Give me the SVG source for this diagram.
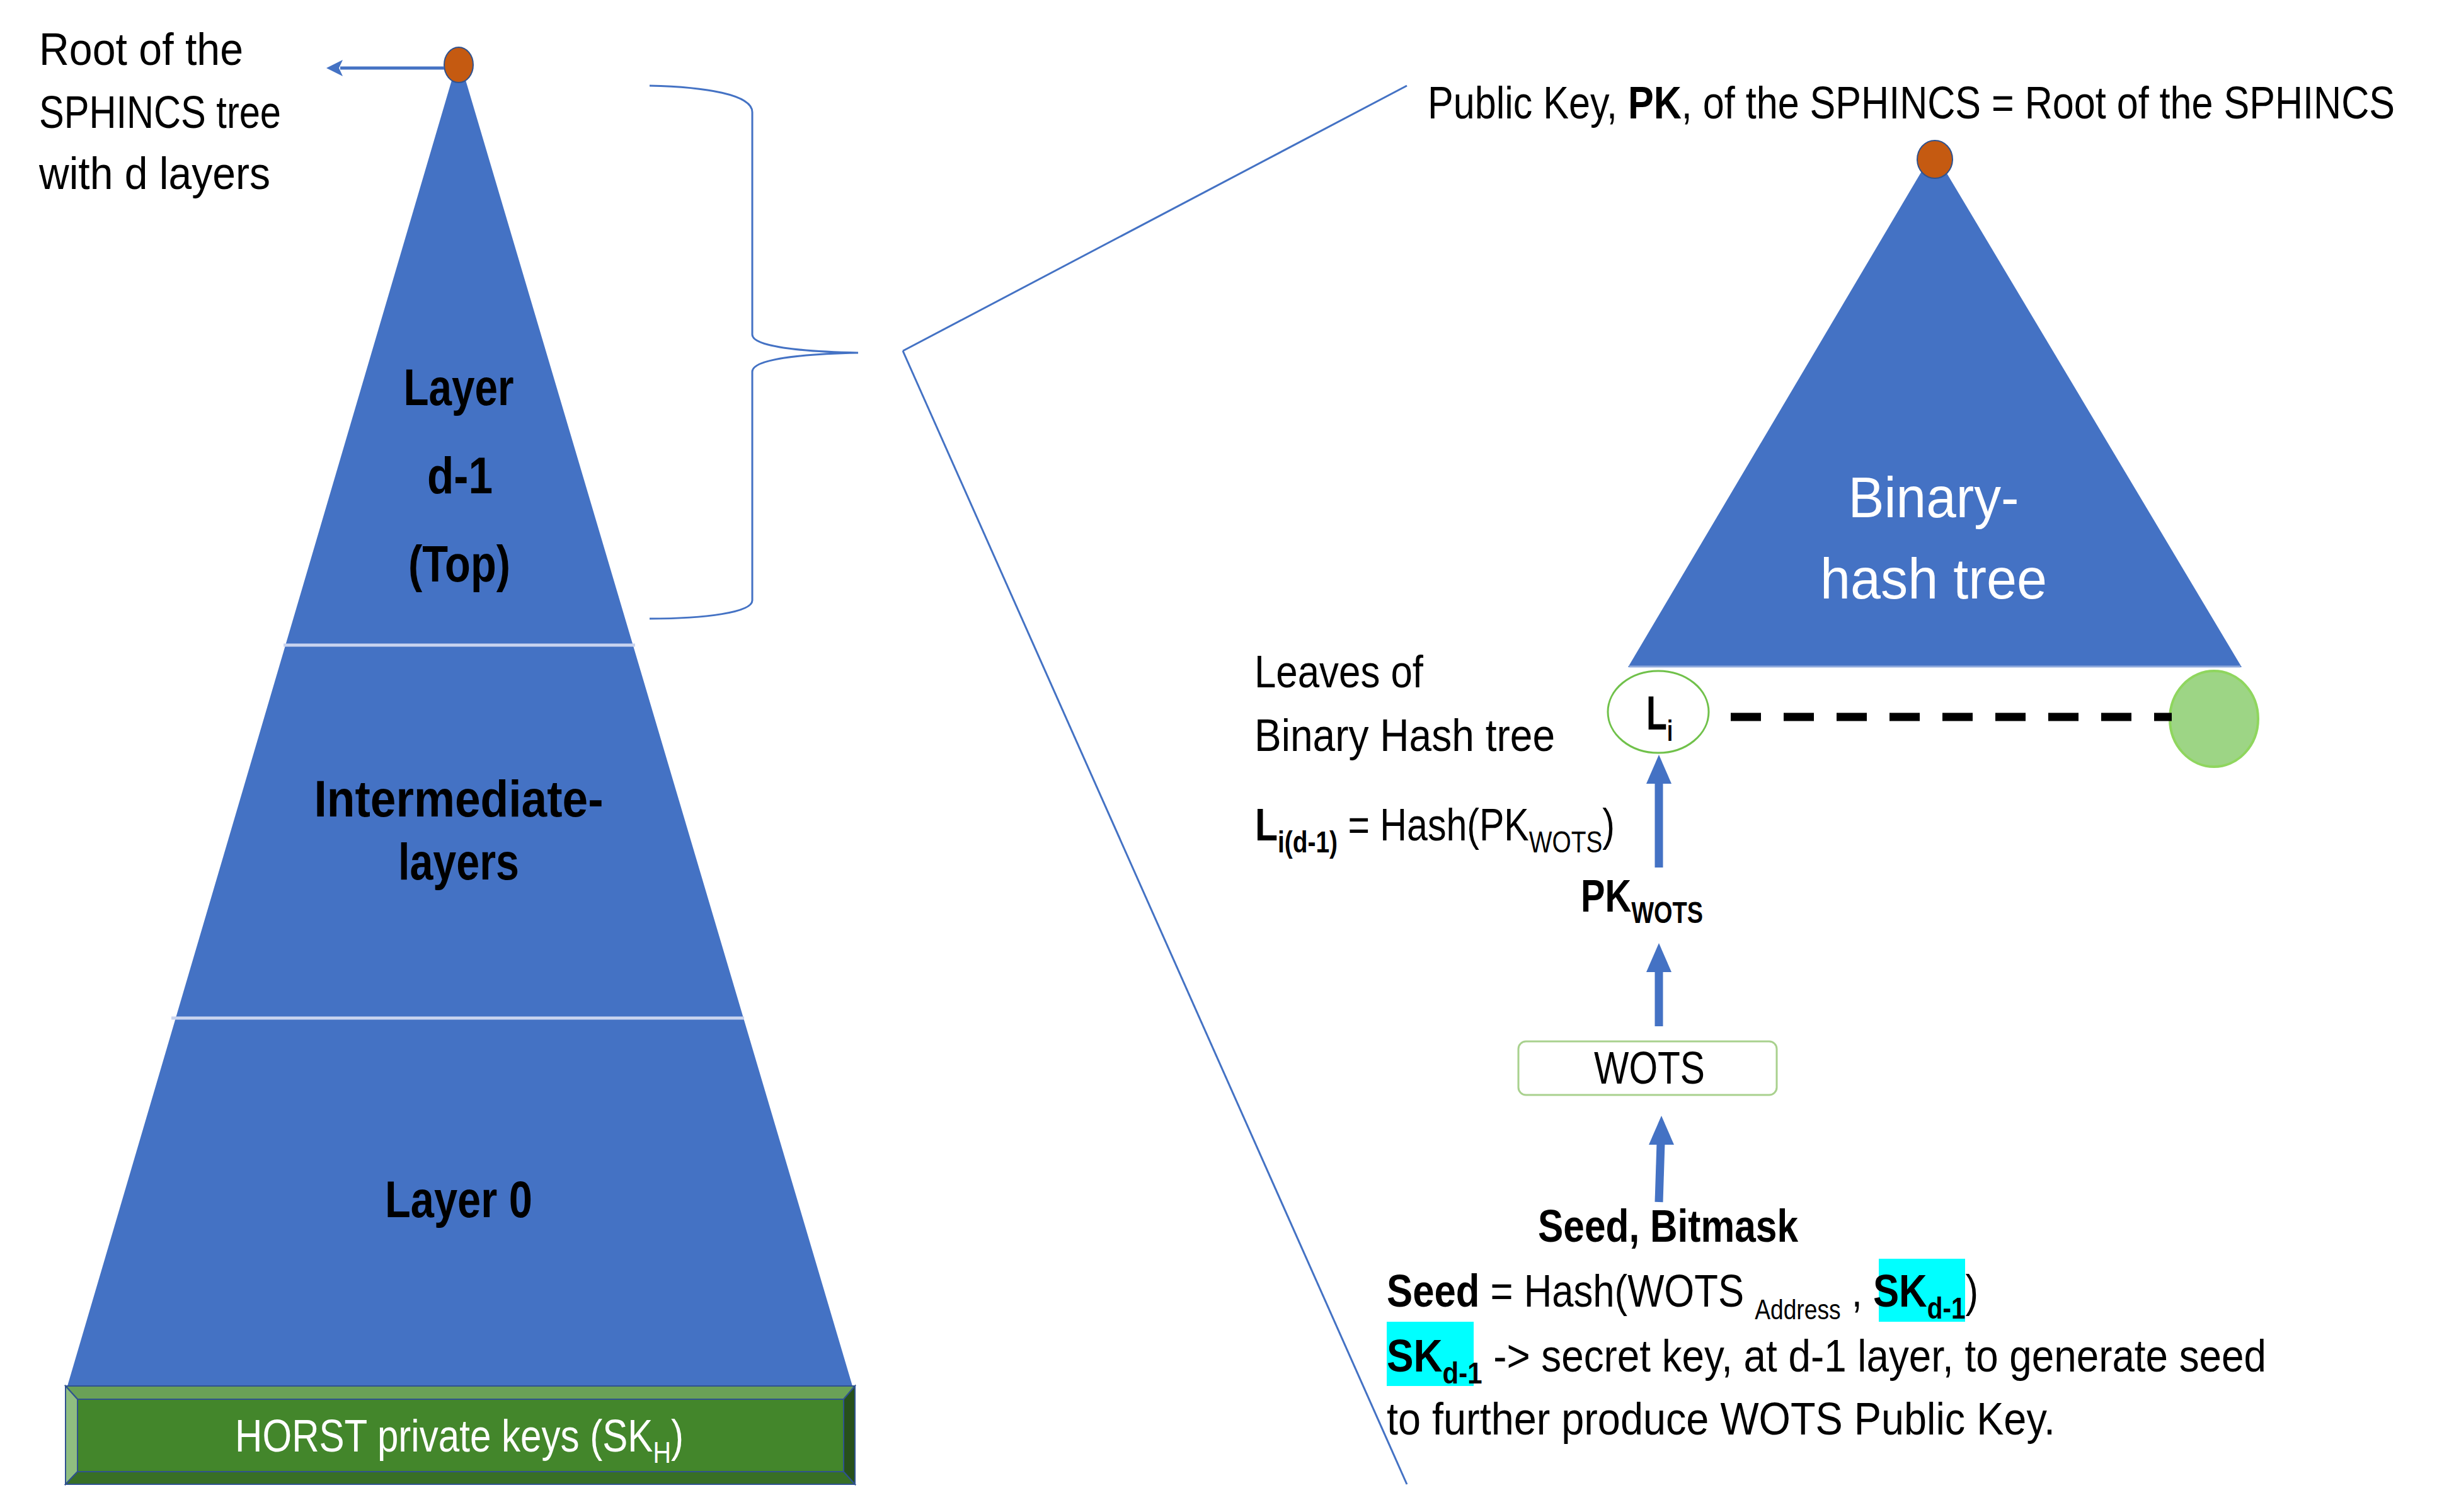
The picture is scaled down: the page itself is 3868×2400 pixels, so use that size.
<svg xmlns="http://www.w3.org/2000/svg" width="3868" height="2400" viewBox="0 0 3868 2400">
<defs>
<style>
text{font-family:"Liberation Sans",Arial,sans-serif;fill:#000;}
.r{font-size:73px;}
.b{font-size:73px;font-weight:bold;}
.lay{font-size:82px;font-weight:bold;text-anchor:middle;}
.w{fill:#fff;}
.thin{fill:none;stroke:#4472c4;stroke-width:3;}
.shaft{stroke:#4472c4;stroke-width:13;fill:none;}
.head{fill:#4472c4;}
.bev{stroke:#2f528f;stroke-width:2;}
</style>
</defs>
<rect width="3868" height="2400" fill="#fff"/>

<g id="sphincs-tree">
<polygon points="728,90 107,2200 1353,2200" fill="#4472c4"/>
<line x1="450" y1="1024" x2="1008" y2="1024" stroke="#c9d4ef" stroke-width="5"/>
<line x1="272" y1="1616" x2="1181" y2="1616" stroke="#c9d4ef" stroke-width="5"/>
<text class="lay" x="728" y="643" textLength="175" lengthAdjust="spacingAndGlyphs">Layer</text>
<text class="lay" x="730" y="783" textLength="104" lengthAdjust="spacingAndGlyphs">d-1</text>
<text class="lay" x="729" y="923" textLength="162" lengthAdjust="spacingAndGlyphs">(Top)</text>
<text class="lay" x="728" y="1296" textLength="459" lengthAdjust="spacingAndGlyphs">Intermediate-</text>
<text class="lay" x="728" y="1396" textLength="192" lengthAdjust="spacingAndGlyphs">layers</text>
<text class="lay" x="728" y="1932" textLength="234" lengthAdjust="spacingAndGlyphs">Layer 0</text>
</g>

<g id="root-node">
<ellipse cx="728" cy="103" rx="23" ry="28" fill="#c55a11" stroke="#2f528f" stroke-width="2"/>
</g>

<g id="horst-keys">
<rect x="123" y="2221" width="1216" height="115" fill="#43862b"/>
<polygon class="bev" points="104,2200 1357,2200 1339,2221 123,2221" fill="#6aa157"/>
<polygon class="bev" points="104,2200 123,2221 123,2336 104,2356" fill="#8fbe80"/>
<polygon class="bev" points="104,2356 123,2336 1339,2336 1357,2356" fill="#386f26"/>
<polygon class="bev" points="1357,2200 1339,2221 1339,2336 1357,2356" fill="#27501b"/>
<rect class="bev" x="123" y="2221" width="1216" height="115" fill="none"/>
<text class="r w" x="373" y="2304" textLength="712" lengthAdjust="spacingAndGlyphs">HORST private keys (SK<tspan font-size="48" dy="18">H</tspan><tspan dy="-18">)</tspan></text>
</g>

<g id="root-label">
<text class="r" x="62" y="103" textLength="324" lengthAdjust="spacingAndGlyphs">Root of the</text>
<text class="r" x="62" y="203" textLength="384" lengthAdjust="spacingAndGlyphs">SPHINCS tree</text>
<text class="r" x="62" y="300" textLength="367" lengthAdjust="spacingAndGlyphs">with d layers</text>
</g>

<g id="brace">
<path class="thin" d="M1031,136 C1120,138 1194,150 1194,178 L1194,531 C1194,550 1270,558 1362,560 C1270,562 1194,570 1194,590 L1194,953 C1194,972 1120,982 1031,982"/>
</g>

<g id="public-key-label">
<text class="r" x="3801" y="188" text-anchor="end" textLength="1535" lengthAdjust="spacingAndGlyphs">Public Key, <tspan font-weight="bold">PK</tspan>, of the SPHINCS = Root of the SPHINCS</text>
</g>

<g id="binary-hash-tree">
<polygon points="3069,240 2584,1059 3558,1059" fill="#4472c4"/>
<line x1="2586" y1="1058" x2="3556" y2="1058" stroke="#8fa9dc" stroke-width="3"/>
<text class="w" x="3069" y="821" font-size="90" text-anchor="middle" textLength="271" lengthAdjust="spacingAndGlyphs">Binary-</text>
<text class="w" x="3069" y="950" font-size="90" text-anchor="middle" textLength="360" lengthAdjust="spacingAndGlyphs">hash tree</text>
</g>

<g id="pk-root">
<ellipse cx="3071" cy="253" rx="28" ry="30" fill="#c55a11" stroke="#2f528f" stroke-width="2"/>
</g>

<g id="leaves-label">
<text class="r" x="1991" y="1091" textLength="268" lengthAdjust="spacingAndGlyphs">Leaves of</text>
<text class="r" x="1991" y="1192" textLength="477" lengthAdjust="spacingAndGlyphs">Binary Hash tree</text>
</g>

<g id="leaf-li">
<ellipse cx="2632" cy="1130" rx="80" ry="65" fill="#fff" stroke="#70c14a" stroke-width="3"/>
<text x="2613" y="1158" font-size="76" font-weight="bold" textLength="42" lengthAdjust="spacingAndGlyphs">L<tspan font-size="46" dy="18">i</tspan></text>
</g>

<g id="leaf-last">
<ellipse cx="3514" cy="1141" rx="70" ry="76" fill="#9dd585" stroke="#8fd65e" stroke-width="4"/>
</g>

<g id="li-formula">
<text class="r" x="1992" y="1334" textLength="571" lengthAdjust="spacingAndGlyphs"><tspan font-weight="bold">L</tspan><tspan font-weight="bold" font-size="48" dy="19">i(d-1)</tspan><tspan dy="-19"> = Hash(PK</tspan><tspan font-size="48" dy="19">WOTS</tspan><tspan dy="-19">)</tspan></text>
</g>

<g id="pk-wots">
<text class="b" x="2509" y="1447" textLength="194" lengthAdjust="spacingAndGlyphs">PK<tspan font-size="48" dy="18">WOTS</tspan></text>
</g>

<g id="wots">
<rect x="2410" y="1653" width="410" height="85" rx="12" fill="#fff" stroke="#a9d18e" stroke-width="3"/>
<text class="r" x="2618" y="1720" text-anchor="middle" textLength="176" lengthAdjust="spacingAndGlyphs">WOTS</text>
</g>

<g id="seed-bitmask">
<text class="b" x="2441" y="1971" textLength="413" lengthAdjust="spacingAndGlyphs">Seed, Bitmask</text>
</g>

<g id="seed-notes">
<rect x="2982" y="1998" width="137" height="100" fill="#00ffff"/>
<rect x="2201" y="2098" width="138" height="102" fill="#00ffff"/>
<text class="r" x="2201" y="2074" textLength="939" lengthAdjust="spacingAndGlyphs"><tspan font-weight="bold">Seed</tspan> = Hash(WOTS <tspan font-size="44" dy="20">Address</tspan><tspan dy="-20"> , </tspan><tspan font-weight="bold">SK</tspan><tspan font-weight="bold" font-size="48" dy="19">d-1</tspan><tspan dy="-19">)</tspan></text>
<text class="r" x="2201" y="2177" textLength="1396" lengthAdjust="spacingAndGlyphs"><tspan font-weight="bold">SK</tspan><tspan font-weight="bold" font-size="48" dy="19">d-1</tspan><tspan dy="-19"> -&gt; secret key, at d-1 layer, to generate seed</tspan></text>
<text class="r" x="2201" y="2277" textLength="1061" lengthAdjust="spacingAndGlyphs">to further produce WOTS Public Key.</text>
</g>

<g id="connectors">
<line x1="705" y1="108" x2="540" y2="108" stroke="#4472c4" stroke-width="5"/>
<polygon class="head" points="518,108 544,95 538,108 544,121"/>
<line class="thin" x1="1433" y1="557" x2="2233" y2="136"/>
<line class="thin" x1="1433" y1="557" x2="2233" y2="2356"/>
<line x1="2747" y1="1138" x2="3447" y2="1138" stroke="#000" stroke-width="13" stroke-dasharray="48 36"/>
<line class="shaft" x1="2633" y1="1377" x2="2633" y2="1240"/>
<polygon class="head" points="2633,1198 2653,1244 2613,1244"/>
<line class="shaft" x1="2633" y1="1629" x2="2633" y2="1540"/>
<polygon class="head" points="2633,1497 2653,1543 2613,1543"/>
<line class="shaft" x1="2633" y1="1908" x2="2636" y2="1814"/>
<polygon class="head" points="2637,1771 2657,1817 2617,1817"/>
</g>
</svg>
